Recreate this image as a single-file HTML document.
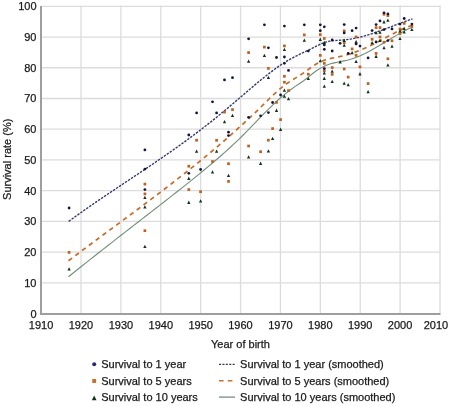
<!DOCTYPE html>
<html><head><meta charset="utf-8"><style>
html,body{margin:0;padding:0;background:#fff;}
svg{display:block;font-family:"Liberation Sans",sans-serif;font-size:11px;fill:#1a1a1a;}
text{stroke:#1a1a1a;stroke-width:0.25px;}
svg{will-change:transform;}
</style></head><body>
<svg width="450" height="406" viewBox="0 0 450 406">
<rect width="450" height="406" fill="#fff"/>
<g stroke="#dcdcdc" stroke-width="1.3" fill="none">
<line x1="80.99" y1="5.6" x2="80.99" y2="313" /><line x1="120.88" y1="5.6" x2="120.88" y2="313" /><line x1="160.77" y1="5.6" x2="160.77" y2="313" /><line x1="200.66" y1="5.6" x2="200.66" y2="313" /><line x1="240.55" y1="5.6" x2="240.55" y2="313" /><line x1="280.44" y1="5.6" x2="280.44" y2="313" /><line x1="320.33" y1="5.6" x2="320.33" y2="313" /><line x1="360.22" y1="5.6" x2="360.22" y2="313" /><line x1="400.11" y1="5.6" x2="400.11" y2="313" /><line x1="440.00" y1="5.6" x2="440.00" y2="313" /><line x1="41" y1="282.87" x2="440.6" y2="282.87" /><line x1="41" y1="252.14" x2="440.6" y2="252.14" /><line x1="41" y1="221.41" x2="440.6" y2="221.41" /><line x1="41" y1="190.68" x2="440.6" y2="190.68" /><line x1="41" y1="159.95" x2="440.6" y2="159.95" /><line x1="41" y1="129.22" x2="440.6" y2="129.22" /><line x1="41" y1="98.49" x2="440.6" y2="98.49" /><line x1="41" y1="67.76" x2="440.6" y2="67.76" /><line x1="41" y1="37.03" x2="440.6" y2="37.03" /><line x1="41" y1="6.30" x2="440.6" y2="6.30" />
</g>
<g stroke="#9e9e9e" stroke-width="2" fill="none">
<line x1="41" y1="6" x2="41" y2="314.9"/>
<line x1="40" y1="313.9" x2="440.5" y2="313.9"/>
</g>
<g fill="#1a1a1a">
<text x="36.5" y="10.2" text-anchor="end">100</text><text x="36.5" y="40.9" text-anchor="end">90</text><text x="36.5" y="71.7" text-anchor="end">80</text><text x="36.5" y="102.4" text-anchor="end">70</text><text x="36.5" y="133.1" text-anchor="end">60</text><text x="36.5" y="163.9" text-anchor="end">50</text><text x="36.5" y="194.6" text-anchor="end">40</text><text x="36.5" y="225.3" text-anchor="end">30</text><text x="36.5" y="256.0" text-anchor="end">20</text><text x="36.5" y="286.8" text-anchor="end">10</text><text x="36.5" y="317.5" text-anchor="end">0</text>
<text x="41.1" y="329.1" text-anchor="middle">1910</text><text x="81.0" y="329.1" text-anchor="middle">1920</text><text x="120.9" y="329.1" text-anchor="middle">1930</text><text x="160.8" y="329.1" text-anchor="middle">1940</text><text x="200.7" y="329.1" text-anchor="middle">1950</text><text x="240.5" y="329.1" text-anchor="middle">1960</text><text x="280.4" y="329.1" text-anchor="middle">1970</text><text x="320.3" y="329.1" text-anchor="middle">1980</text><text x="360.2" y="329.1" text-anchor="middle">1990</text><text x="400.1" y="329.1" text-anchor="middle">2000</text><text x="448.2" y="329.1" text-anchor="end">2010</text>
<text x="240.5" y="347.9" text-anchor="middle">Year of birth</text>
<text transform="translate(11,159.3) rotate(-90)" text-anchor="middle">Survival rate (%)</text>
</g>
<path d="M68.50,276.73 L72.85,273.24 L77.21,269.76 L81.56,266.29 L85.92,262.84 L90.27,259.40 L94.63,255.96 L98.98,252.54 L103.34,249.13 L107.69,245.72 L112.04,242.32 L116.40,238.93 L120.75,235.54 L125.11,232.15 L129.46,228.77 L133.82,225.39 L138.17,222.01 L142.53,218.63 L146.88,215.26 L151.23,211.88 L155.59,208.49 L159.94,205.11 L164.30,201.72 L168.65,198.32 L173.01,194.92 L177.36,191.51 L181.72,188.07 L186.07,184.62 L190.42,181.14 L194.78,177.64 L199.13,174.10 L203.49,170.52 L207.84,166.91 L212.20,163.25 L216.55,159.54 L220.91,155.77 L225.26,151.92 L229.61,147.99 L233.97,143.95 L238.32,139.79 L242.68,135.49 L247.03,131.09 L251.39,126.61 L255.74,122.10 L260.09,117.60 L264.45,113.15 L268.80,108.79 L273.16,104.57 L277.51,100.52 L281.87,96.68 L286.22,93.09 L290.58,89.74 L294.93,86.65 L299.28,83.74 L303.64,80.72 L307.99,77.31 L312.35,73.77 L316.70,70.57 L321.06,67.87 L325.41,65.70 L329.77,64.07 L334.12,62.88 L338.47,61.95 L342.83,61.11 L347.18,60.19 L351.54,59.02 L355.89,57.53 L360.25,55.74 L364.60,53.71 L368.96,51.47 L373.31,49.07 L377.66,46.55 L382.02,43.95 L386.37,41.32 L390.73,38.69 L395.08,36.11 L399.44,33.62 L403.79,31.27 L408.15,29.10 L412.50,27.14" fill="none" stroke="#6f8f77" stroke-width="1.1"/>
<path d="M68.50,260.77 L72.85,257.49 L77.21,254.21 L81.56,250.95 L85.92,247.70 L90.27,244.46 L94.63,241.23 L98.98,238.00 L103.34,234.78 L107.69,231.56 L112.04,228.34 L116.40,225.12 L120.75,221.90 L125.11,218.68 L129.46,215.45 L133.82,212.21 L138.17,208.96 L142.53,205.71 L146.88,202.44 L151.23,199.17 L155.59,195.87 L159.94,192.56 L164.30,189.24 L168.65,185.89 L173.01,182.53 L177.36,179.14 L181.72,175.73 L186.07,172.29 L190.42,168.82 L194.78,165.33 L199.13,161.80 L203.49,158.24 L207.84,154.64 L212.20,151.00 L216.55,147.33 L220.91,143.60 L225.26,139.84 L229.61,136.02 L233.97,132.16 L238.32,128.24 L242.68,124.27 L247.03,120.25 L251.39,116.16 L255.74,112.01 L260.09,107.81 L264.45,103.53 L268.80,99.24 L273.16,95.02 L277.51,91.01 L281.87,87.31 L286.22,84.02 L290.58,81.10 L294.93,78.38 L299.28,75.69 L303.64,72.85 L307.99,69.71 L312.35,66.51 L316.70,63.67 L321.06,61.49 L325.41,59.89 L329.77,58.70 L334.12,57.75 L338.47,56.88 L342.83,55.93 L347.18,54.78 L351.54,53.42 L355.89,51.89 L360.25,50.18 L364.60,48.32 L368.96,46.31 L373.31,44.18 L377.66,41.94 L382.02,39.62 L386.37,37.27 L390.73,34.93 L395.08,32.67 L399.44,30.53 L403.79,28.55 L408.15,26.79 L412.50,25.29" fill="none" stroke="#cc6a22" stroke-width="1.7" stroke-dasharray="4.5 4"/>
<path d="M68.70,221.39 L73.05,218.22 L77.40,215.09 L81.76,212.00 L86.11,208.94 L90.46,205.91 L94.81,202.91 L99.16,199.94 L103.52,196.98 L107.87,194.04 L112.22,191.12 L116.57,188.21 L120.92,185.30 L125.27,182.41 L129.63,179.51 L133.98,176.61 L138.33,173.71 L142.68,170.80 L147.03,167.88 L151.39,164.95 L155.74,162.00 L160.09,159.03 L164.44,156.04 L168.79,153.02 L173.15,149.97 L177.50,146.89 L181.85,143.78 L186.20,140.62 L190.55,137.42 L194.91,134.18 L199.26,130.89 L203.61,127.55 L207.96,124.16 L212.31,120.70 L216.66,117.19 L221.02,113.62 L225.37,110.01 L229.72,106.36 L234.07,102.68 L238.42,98.97 L242.78,95.26 L247.13,91.54 L251.48,87.83 L255.83,84.16 L260.18,80.55 L264.54,77.02 L268.89,73.60 L273.24,70.30 L277.59,67.16 L281.94,64.20 L286.29,61.45 L290.65,58.91 L295.00,56.60 L299.35,54.44 L303.70,52.36 L308.05,50.29 L312.41,48.15 L316.76,45.91 L321.11,43.82 L325.46,42.19 L329.81,41.18 L334.17,40.61 L338.52,40.27 L342.87,39.99 L347.22,39.55 L351.57,38.91 L355.93,38.07 L360.28,37.06 L364.63,35.90 L368.98,34.60 L373.33,33.20 L377.68,31.70 L382.04,30.13 L386.39,28.51 L390.74,26.86 L395.09,25.21 L399.44,23.56 L403.80,21.94 L408.15,20.37 L412.50,18.87" fill="none" stroke="#383a70" stroke-width="1.4" stroke-dasharray="2.4 1.2"/>
<g>
<rect x="67.75" y="251.05" width="2.7" height="2.7" fill="#bf601e"/><rect x="143.55" y="182.75" width="2.7" height="2.7" fill="#bf601e"/><rect x="143.55" y="192.55" width="2.7" height="2.7" fill="#bf601e"/><rect x="143.55" y="229.35" width="2.7" height="2.7" fill="#bf601e"/><rect x="187.45" y="164.85" width="2.7" height="2.7" fill="#bf601e"/><rect x="187.45" y="188.25" width="2.7" height="2.7" fill="#bf601e"/><rect x="195.25" y="138.85" width="2.7" height="2.7" fill="#bf601e"/><rect x="199.25" y="190.35" width="2.7" height="2.7" fill="#bf601e"/><rect x="211.15" y="160.15" width="2.7" height="2.7" fill="#bf601e"/><rect x="215.25" y="138.95" width="2.7" height="2.7" fill="#bf601e"/><rect x="223.15" y="110.75" width="2.7" height="2.7" fill="#bf601e"/><rect x="227.15" y="162.35" width="2.7" height="2.7" fill="#bf601e"/><rect x="227.15" y="180.05" width="2.7" height="2.7" fill="#bf601e"/><rect x="231.15" y="108.25" width="2.7" height="2.7" fill="#bf601e"/><rect x="247.25" y="51.25" width="2.7" height="2.7" fill="#bf601e"/><rect x="247.25" y="144.65" width="2.7" height="2.7" fill="#bf601e"/><rect x="259.25" y="150.35" width="2.7" height="2.7" fill="#bf601e"/><rect x="263.05" y="45.75" width="2.7" height="2.7" fill="#bf601e"/><rect x="267.05" y="67.05" width="2.7" height="2.7" fill="#bf601e"/><rect x="267.05" y="138.85" width="2.7" height="2.7" fill="#bf601e"/><rect x="271.25" y="127.25" width="2.7" height="2.7" fill="#bf601e"/><rect x="275.15" y="101.05" width="2.7" height="2.7" fill="#bf601e"/><rect x="279.25" y="118.25" width="2.7" height="2.7" fill="#bf601e"/><rect x="283.05" y="44.55" width="2.7" height="2.7" fill="#bf601e"/><rect x="283.05" y="74.95" width="2.7" height="2.7" fill="#bf601e"/><rect x="283.05" y="80.85" width="2.7" height="2.7" fill="#bf601e"/><rect x="287.15" y="89.25" width="2.7" height="2.7" fill="#bf601e"/><rect x="302.95" y="33.55" width="2.7" height="2.7" fill="#bf601e"/><rect x="306.95" y="72.85" width="2.7" height="2.7" fill="#bf601e"/><rect x="318.95" y="33.25" width="2.7" height="2.7" fill="#bf601e"/><rect x="318.95" y="54.05" width="2.7" height="2.7" fill="#bf601e"/><rect x="322.95" y="37.15" width="2.7" height="2.7" fill="#bf601e"/><rect x="322.95" y="62.05" width="2.7" height="2.7" fill="#bf601e"/><rect x="322.95" y="69.35" width="2.7" height="2.7" fill="#bf601e"/><rect x="330.85" y="66.25" width="2.7" height="2.7" fill="#bf601e"/><rect x="330.85" y="73.05" width="2.7" height="2.7" fill="#bf601e"/><rect x="342.85" y="29.55" width="2.7" height="2.7" fill="#bf601e"/><rect x="342.85" y="41.25" width="2.7" height="2.7" fill="#bf601e"/><rect x="342.85" y="67.65" width="2.7" height="2.7" fill="#bf601e"/><rect x="346.85" y="75.75" width="2.7" height="2.7" fill="#bf601e"/><rect x="350.75" y="47.55" width="2.7" height="2.7" fill="#bf601e"/><rect x="354.75" y="35.55" width="2.7" height="2.7" fill="#bf601e"/><rect x="354.75" y="54.05" width="2.7" height="2.7" fill="#bf601e"/><rect x="358.65" y="65.55" width="2.7" height="2.7" fill="#bf601e"/><rect x="366.75" y="82.25" width="2.7" height="2.7" fill="#bf601e"/><rect x="370.75" y="37.95" width="2.7" height="2.7" fill="#bf601e"/><rect x="374.75" y="26.25" width="2.7" height="2.7" fill="#bf601e"/><rect x="374.75" y="52.05" width="2.7" height="2.7" fill="#bf601e"/><rect x="378.65" y="26.25" width="2.7" height="2.7" fill="#bf601e"/><rect x="378.65" y="35.55" width="2.7" height="2.7" fill="#bf601e"/><rect x="382.65" y="12.95" width="2.7" height="2.7" fill="#bf601e"/><rect x="382.65" y="40.85" width="2.7" height="2.7" fill="#bf601e"/><rect x="386.55" y="14.25" width="2.7" height="2.7" fill="#bf601e"/><rect x="386.55" y="57.45" width="2.7" height="2.7" fill="#bf601e"/><rect x="390.65" y="39.45" width="2.7" height="2.7" fill="#bf601e"/><rect x="398.65" y="27.75" width="2.7" height="2.7" fill="#bf601e"/><rect x="398.65" y="32.25" width="2.7" height="2.7" fill="#bf601e"/><rect x="402.85" y="22.05" width="2.7" height="2.7" fill="#bf601e"/><rect x="410.55" y="25.05" width="2.7" height="2.7" fill="#bf601e"/><path d="M69.10,267.31 L70.75,270.59 L67.45,270.59Z" fill="#0f3519"/><path d="M144.90,195.71 L146.55,198.99 L143.25,198.99Z" fill="#0f3519"/><path d="M144.90,205.21 L146.55,208.49 L143.25,208.49Z" fill="#0f3519"/><path d="M144.90,244.71 L146.55,247.99 L143.25,247.99Z" fill="#0f3519"/><path d="M188.80,176.61 L190.45,179.89 L187.15,179.89Z" fill="#0f3519"/><path d="M188.80,200.61 L190.45,203.89 L187.15,203.89Z" fill="#0f3519"/><path d="M196.60,149.51 L198.25,152.79 L194.95,152.79Z" fill="#0f3519"/><path d="M200.60,199.21 L202.25,202.49 L198.95,202.49Z" fill="#0f3519"/><path d="M212.50,170.21 L214.15,173.49 L210.85,173.49Z" fill="#0f3519"/><path d="M216.60,149.41 L218.25,152.69 L214.95,152.69Z" fill="#0f3519"/><path d="M224.50,119.92 L226.15,123.19 L222.85,123.19Z" fill="#0f3519"/><path d="M228.50,173.71 L230.15,176.99 L226.85,176.99Z" fill="#0f3519"/><path d="M232.50,113.72 L234.15,116.98 L230.85,116.98Z" fill="#0f3519"/><path d="M248.60,59.42 L250.25,62.69 L246.95,62.69Z" fill="#0f3519"/><path d="M248.60,155.21 L250.25,158.49 L246.95,158.49Z" fill="#0f3519"/><path d="M260.60,161.61 L262.25,164.89 L258.95,164.89Z" fill="#0f3519"/><path d="M264.40,53.82 L266.05,57.09 L262.75,57.09Z" fill="#0f3519"/><path d="M268.40,75.81 L270.05,79.08 L266.75,79.08Z" fill="#0f3519"/><path d="M268.40,149.31 L270.05,152.59 L266.75,152.59Z" fill="#0f3519"/><path d="M272.60,136.81 L274.25,140.09 L270.95,140.09Z" fill="#0f3519"/><path d="M276.50,108.62 L278.15,111.89 L274.85,111.89Z" fill="#0f3519"/><path d="M280.60,127.62 L282.25,130.89 L278.95,130.89Z" fill="#0f3519"/><path d="M284.40,47.82 L286.05,51.09 L282.75,51.09Z" fill="#0f3519"/><path d="M284.40,88.52 L286.05,91.78 L282.75,91.78Z" fill="#0f3519"/><path d="M284.40,94.42 L286.05,97.69 L282.75,97.69Z" fill="#0f3519"/><path d="M288.50,96.92 L290.15,100.19 L286.85,100.19Z" fill="#0f3519"/><path d="M304.30,38.52 L305.95,41.78 L302.65,41.78Z" fill="#0f3519"/><path d="M308.30,76.72 L309.95,79.98 L306.65,79.98Z" fill="#0f3519"/><path d="M320.30,37.62 L321.95,40.88 L318.65,40.88Z" fill="#0f3519"/><path d="M320.30,58.92 L321.95,62.19 L318.65,62.19Z" fill="#0f3519"/><path d="M324.30,40.82 L325.95,44.09 L322.65,44.09Z" fill="#0f3519"/><path d="M324.30,71.22 L325.95,74.48 L322.65,74.48Z" fill="#0f3519"/><path d="M324.30,76.62 L325.95,79.89 L322.65,79.89Z" fill="#0f3519"/><path d="M324.30,84.52 L325.95,87.78 L322.65,87.78Z" fill="#0f3519"/><path d="M332.20,69.52 L333.85,72.78 L330.55,72.78Z" fill="#0f3519"/><path d="M332.20,79.81 L333.85,83.08 L330.55,83.08Z" fill="#0f3519"/><path d="M340.10,60.12 L341.75,63.38 L338.45,63.38Z" fill="#0f3519"/><path d="M344.20,38.62 L345.85,41.88 L342.55,41.88Z" fill="#0f3519"/><path d="M344.20,43.42 L345.85,46.69 L342.55,46.69Z" fill="#0f3519"/><path d="M344.20,81.52 L345.85,84.78 L342.55,84.78Z" fill="#0f3519"/><path d="M348.20,83.02 L349.85,86.28 L346.55,86.28Z" fill="#0f3519"/><path d="M352.10,51.02 L353.75,54.28 L350.45,54.28Z" fill="#0f3519"/><path d="M356.10,39.92 L357.75,43.19 L354.45,43.19Z" fill="#0f3519"/><path d="M356.10,59.82 L357.75,63.09 L354.45,63.09Z" fill="#0f3519"/><path d="M360.00,72.12 L361.65,75.39 L358.35,75.39Z" fill="#0f3519"/><path d="M368.10,90.02 L369.75,93.28 L366.45,93.28Z" fill="#0f3519"/><path d="M372.10,41.02 L373.75,44.28 L370.45,44.28Z" fill="#0f3519"/><path d="M376.10,30.92 L377.75,34.19 L374.45,34.19Z" fill="#0f3519"/><path d="M376.10,54.62 L377.75,57.88 L374.45,57.88Z" fill="#0f3519"/><path d="M380.00,30.42 L381.65,33.69 L378.35,33.69Z" fill="#0f3519"/><path d="M380.00,38.62 L381.65,41.88 L378.35,41.88Z" fill="#0f3519"/><path d="M384.00,20.11 L385.65,23.38 L382.35,23.38Z" fill="#0f3519"/><path d="M384.00,45.92 L385.65,49.19 L382.35,49.19Z" fill="#0f3519"/><path d="M387.90,18.41 L389.55,21.68 L386.25,21.68Z" fill="#0f3519"/><path d="M387.90,63.22 L389.55,66.48 L386.25,66.48Z" fill="#0f3519"/><path d="M392.00,44.42 L393.65,47.69 L390.35,47.69Z" fill="#0f3519"/><path d="M400.00,29.21 L401.65,32.48 L398.35,32.48Z" fill="#0f3519"/><path d="M400.00,36.82 L401.65,40.09 L398.35,40.09Z" fill="#0f3519"/><path d="M404.20,26.71 L405.85,29.98 L402.55,29.98Z" fill="#0f3519"/><path d="M404.20,30.21 L405.85,33.48 L402.55,33.48Z" fill="#0f3519"/><path d="M411.90,27.71 L413.55,30.98 L410.25,30.98Z" fill="#0f3519"/><circle cx="69.1" cy="208.0" r="1.4" fill="#15163f"/><circle cx="144.9" cy="149.9" r="1.4" fill="#15163f"/><circle cx="144.9" cy="169.1" r="1.4" fill="#15163f"/><circle cx="144.9" cy="189.6" r="1.4" fill="#15163f"/><circle cx="188.8" cy="135.0" r="1.4" fill="#15163f"/><circle cx="188.8" cy="173.3" r="1.4" fill="#15163f"/><circle cx="196.6" cy="112.9" r="1.4" fill="#15163f"/><circle cx="200.6" cy="169.5" r="1.4" fill="#15163f"/><circle cx="212.5" cy="101.8" r="1.4" fill="#15163f"/><circle cx="216.6" cy="112.9" r="1.4" fill="#15163f"/><circle cx="224.5" cy="79.9" r="1.4" fill="#15163f"/><circle cx="228.5" cy="132.2" r="1.4" fill="#15163f"/><circle cx="228.5" cy="135.6" r="1.4" fill="#15163f"/><circle cx="232.5" cy="77.7" r="1.4" fill="#15163f"/><circle cx="248.6" cy="38.8" r="1.4" fill="#15163f"/><circle cx="248.6" cy="117.3" r="1.4" fill="#15163f"/><circle cx="260.6" cy="115.8" r="1.4" fill="#15163f"/><circle cx="264.4" cy="24.8" r="1.4" fill="#15163f"/><circle cx="268.4" cy="47.8" r="1.4" fill="#15163f"/><circle cx="268.4" cy="112.6" r="1.4" fill="#15163f"/><circle cx="272.6" cy="102.5" r="1.4" fill="#15163f"/><circle cx="276.5" cy="57.5" r="1.4" fill="#15163f"/><circle cx="280.6" cy="95.0" r="1.4" fill="#15163f"/><circle cx="284.4" cy="26.1" r="1.4" fill="#15163f"/><circle cx="284.4" cy="57.0" r="1.4" fill="#15163f"/><circle cx="284.4" cy="63.3" r="1.4" fill="#15163f"/><circle cx="288.5" cy="70.4" r="1.4" fill="#15163f"/><circle cx="304.3" cy="24.8" r="1.4" fill="#15163f"/><circle cx="308.3" cy="51.1" r="1.4" fill="#15163f"/><circle cx="320.3" cy="24.8" r="1.4" fill="#15163f"/><circle cx="320.3" cy="30.7" r="1.4" fill="#15163f"/><circle cx="324.3" cy="26.8" r="1.4" fill="#15163f"/><circle cx="324.3" cy="44.9" r="1.4" fill="#15163f"/><circle cx="324.3" cy="49.3" r="1.4" fill="#15163f"/><circle cx="324.3" cy="68.6" r="1.4" fill="#15163f"/><circle cx="332.2" cy="40.0" r="1.4" fill="#15163f"/><circle cx="332.2" cy="51.0" r="1.4" fill="#15163f"/><circle cx="340.1" cy="43.3" r="1.4" fill="#15163f"/><circle cx="344.2" cy="24.6" r="1.4" fill="#15163f"/><circle cx="344.2" cy="32.9" r="1.4" fill="#15163f"/><circle cx="348.2" cy="53.4" r="1.4" fill="#15163f"/><circle cx="352.1" cy="30.7" r="1.4" fill="#15163f"/><circle cx="356.1" cy="28.1" r="1.4" fill="#15163f"/><circle cx="356.1" cy="43.9" r="1.4" fill="#15163f"/><circle cx="360.0" cy="46.1" r="1.4" fill="#15163f"/><circle cx="368.1" cy="57.9" r="1.4" fill="#15163f"/><circle cx="372.1" cy="30.6" r="1.4" fill="#15163f"/><circle cx="376.1" cy="24.6" r="1.4" fill="#15163f"/><circle cx="376.1" cy="42.0" r="1.4" fill="#15163f"/><circle cx="380.0" cy="20.9" r="1.4" fill="#15163f"/><circle cx="384.0" cy="12.8" r="1.4" fill="#15163f"/><circle cx="384.0" cy="29.6" r="1.4" fill="#15163f"/><circle cx="387.9" cy="13.9" r="1.4" fill="#15163f"/><circle cx="387.9" cy="40.6" r="1.4" fill="#15163f"/><circle cx="392.0" cy="28.9" r="1.4" fill="#15163f"/><circle cx="400.0" cy="24.1" r="1.4" fill="#15163f"/><circle cx="404.2" cy="18.5" r="1.4" fill="#15163f"/><circle cx="411.9" cy="24.1" r="1.4" fill="#15163f"/>
</g>
<g>
<circle cx="94.2" cy="364.3" r="2.0" fill="#28287a"/>
<rect x="92.25" y="379.05" width="3.9" height="3.9" fill="#cc6c26"/>
<path d="M94.20,395.54 L96.60,400.16 L91.80,400.16Z" fill="#0f3519"/>
<text x="101.2" y="367.9">Survival to 1 year</text>
<text x="101.2" y="384.5">Survival to 5 years</text>
<text x="101.2" y="401.1">Survival to 10 years</text>
<line x1="219" y1="364.3" x2="235.6" y2="364.3" stroke="#3a3b62" stroke-width="1.3" stroke-dasharray="2.1 1.3"/>
<line x1="219" y1="380.8" x2="232.5" y2="380.8" stroke="#d0702a" stroke-width="1.6" stroke-dasharray="4.6 4.2"/>
<line x1="219" y1="397.1" x2="235" y2="397.1" stroke="#7a8a80" stroke-width="1.3"/>
<text x="240.1" y="367.9">Survival to 1 year (smoothed)</text>
<text x="240.1" y="384.5">Survival to 5 years (smoothed)</text>
<text x="240.1" y="401.1">Survival to 10 years (smoothed)</text>
</g>
</svg>
</body></html>
